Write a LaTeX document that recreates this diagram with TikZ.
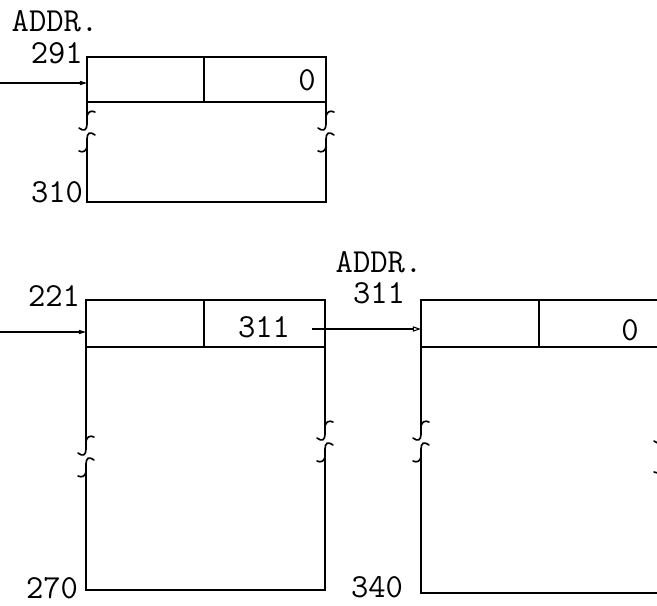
\documentclass[tikz,border=0pt]{standalone}
\usetikzlibrary{positioning, arrows.meta}
\newcommand\pxu{0.03cm}
\newcommand\tw[1]{\scalebox{1.66}{#1}}
\tikzset{
  cell/.style={draw, line width=1.4pt, rectangle, inner sep=0pt, outer sep=0pt,
               anchor=north west, minimum height=47*\pxu},
  lbl/.style={font=\ttfamily\fontsize{17.28}{20}\selectfont, inner sep=0pt},
  wall/.style={line width=1.4pt, line cap=round},
  ptr/.style={line width=0.9pt, -{Triangle[length=6pt, width=3.5pt]}},
  brkup/.pic={
    \draw[wall] (0,0) .. controls (0,6) and (-3,8) .. (-8,4);
    \draw[wall] (0,-8) .. controls (1,-12) and (4,-14) .. (8,-12);
  },
  brkdn/.pic={
    \draw[wall] (0,0) .. controls (0,-6) and (3,-8) .. (8,-4);
    \draw[wall] (0,8) .. controls (-1,12) and (-4,14) .. (-8,12);
  },
}

\begin{document}
\begin{tikzpicture}[x=\pxu, y=-\pxu]
  \useasboundingbox (0,0) rectangle (657,605);
  \clip (0,0) rectangle (657,605);

  % block at 291
  \node[cell, minimum width=117*\pxu, minimum height=45*\pxu] (a1) at (87,57) {};
  \node[cell, minimum width=122*\pxu, minimum height=45*\pxu] (a2) at (204,57) {};
  \node[lbl] (aval) at (307,80) {\tw{0}};
  \node[lbl] (addra) at (55,21) {\tw{ADDR.}};
  \node[lbl, anchor=east] (atop) at (83,53) {\tw{291}};
  \node[lbl] (abot) at (57,192) {\tw{310}};
  \coordinate (ina) at (0,83);
  \draw[ptr] (ina) -- (ina -| a1.west);
  \draw[wall] (a1.south west) -- (87,124) pic {brkup};
  \draw[wall] (a2.south east) -- (326,124) pic {brkup};
  \draw[wall] (87,139) -- (87,202) -- (326,202) -- (326,139);
  \pic at (87,139) {brkdn};
  \pic at (326,139) {brkdn};

  % block at 221
  \node[cell, minimum width=118*\pxu] (b1) at (86,300) {};
  \node[cell, minimum width=121*\pxu] (b2) at (204,300) {};
  \node[lbl] (bval) at (264,327) {\tw{311}};
  \node[lbl] (btop) at (54,296) {\tw{221}};
  \node[lbl] (bbot) at (52,588) {\tw{270}};
  \coordinate (inb) at (0,332);
  \draw[ptr] (inb) -- (inb -| b1.west);
  \draw[wall] (b1.south west) -- (86,449) pic {brkup};
  \draw[wall] (b2.south east) -- (325,434) pic {brkup};
  \draw[wall] (86,464) -- (86,590) -- (325,590) -- (325,449);
  \pic at (86,464) {brkdn};
  \pic at (325,449) {brkdn};

  % block at 311
  \node[cell, minimum width=118*\pxu] (c1) at (421,300) {};
  \node[cell, minimum width=123*\pxu] (c2) at (539,300) {};
  \node[lbl] (cval) at (630,330) {\tw{0}};
  \node[lbl] (addrc) at (379,262) {\tw{ADDR.}};
  \node[lbl] (ctop) at (379,293) {\tw{311}};
  \node[lbl] (cbot) at (377,587) {\tw{340}};
  \coordinate (link) at (312,329);
  \draw[ptr, -{Triangle[open, length=7pt, width=4.5pt]}] (link) -- (link -| c1.west);
  \draw[wall] (c1.south west) -- (421,434) pic {brkup};
  \draw[wall] (c2.south east) -- (662,437) pic {brkup};
  \draw[wall] (421,449) -- (421,593) -- (662,593) -- (662,460);
  \pic at (421,449) {brkdn};
  \pic at (662,460) {brkdn};
\end{tikzpicture}
\end{document}
